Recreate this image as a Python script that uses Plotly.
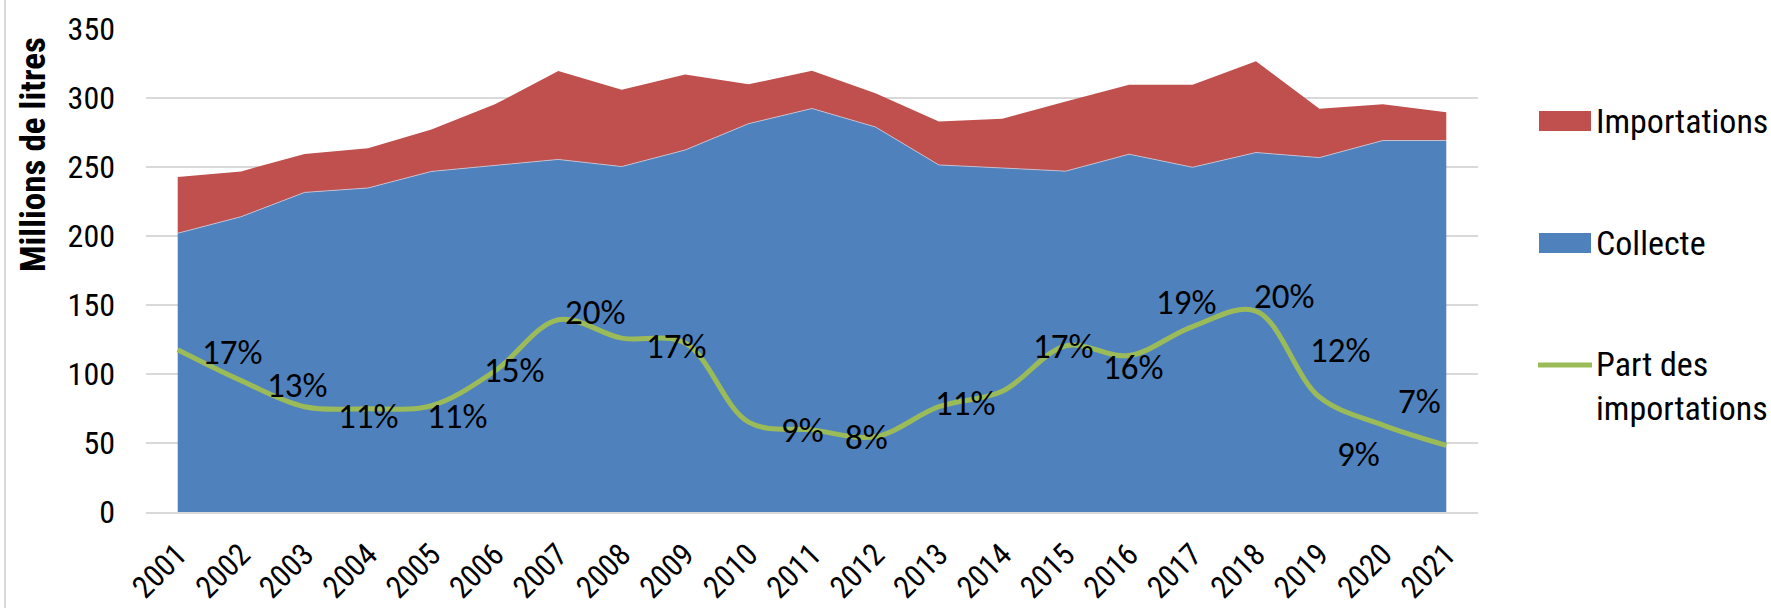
import plotly.graph_objects as go

# ---------------- data ----------------
years = list(range(2001, 2022))
year_labels = [str(y) for y in years]
collecte = [202.0, 214.0, 231.6, 234.8, 246.8, 251.0, 255.5, 250.3, 262.3, 281.4, 292.4,
            279.0, 251.5, 249.3, 247.0, 259.3, 249.8, 260.5, 256.8, 269.2, 269.2]
importations = [40.8, 32.8, 27.9, 28.7, 30.4, 44.4, 64.1, 55.6, 54.8, 28.5, 27.4,
                24.4, 31.5, 35.7, 50.4, 50.3, 59.8, 66.1, 35.4, 26.2, 20.5]
part_pct = [16.8, 13.6, 10.9, 10.7, 11.0, 14.6, 19.9, 18.0, 17.5, 9.3, 8.5,
            7.8, 10.9, 12.5, 17.2, 16.2, 19.2, 20.8, 11.9, 9.0, 6.9]
part_labels = ["17%", "13%", "", "11%", "11%", "15%", "20%", "", "17%", "", "9%",
               "8%", "11%", "", "17%", "16%", "19%", "20%", "12%", "9%", "7%"]
y_ticks = [0, 50, 100, 150, 200, 250, 300, 350]

# label offsets (pixels, style only)
lab_dx = [55, 56, 0, 0, 26, 20, 37, 0, -9, 0, -10, -9, 27, 0, -2, 4, -6, 28, 21, -24, -27]
lab_dy = [2, 4, 0, 7, 10, -1, -8, 0, 3, 0, 0, 0, -4, 0, 0, 11, -25, -15, -47, 29, -44]

# ---------------- style ----------------
BLUE = "#4F81BD"
RED = "#C0504D"
GREEN = "#9BBB59"
GRID = "#D9D9D9"
NARROW = "Liberation Sans Narrow, Arial Narrow, Roboto Condensed, DejaVu Sans Condensed, Liberation Sans, sans-serif"
LABF = "Carlito, Calibri, Lato, Open Sans, sans-serif"

W, H = 1771, 608
L, R, T, B = 146, 1478, 29, 512   # plot area in pixels


def px(xp):
    return (xp - L) / (R - L)


def py(yp):
    return (B - yp) / (B - T)


fig = go.Figure()

fig.add_trace(go.Scatter(
    x=years, y=collecte, name="Collecte", stackgroup="s", mode="lines",
    line=dict(width=0.8, color="rgba(200,215,235,0.9)"), fillcolor=BLUE,
    showlegend=False, hoverinfo="skip"))
fig.add_trace(go.Scatter(
    x=years, y=importations, name="Importations", stackgroup="s", mode="lines",
    line=dict(width=0, color=RED), fillcolor=RED,
    showlegend=False, hoverinfo="skip"))
fig.add_trace(go.Scatter(
    x=years, y=part_pct, name="Part des importations", yaxis="y2", mode="lines",
    line=dict(width=5, color=GREEN, shape="spline", smoothing=1.0),
    showlegend=False, hoverinfo="skip"))

annotations = []
for yr, v, t, dx, dy in zip(years, part_pct, part_labels, lab_dx, lab_dy):
    if not t:
        continue
    annotations.append(dict(
        x=yr, y=v, xref="x", yref="y2", text=t, showarrow=False,
        xshift=dx, yshift=-dy, xanchor="center", yanchor="middle",
        font=dict(family=LABF, size=35, color="#000000")))

# y-axis title
annotations.append(dict(
    x=px(33), y=py(155), xref="paper", yref="paper", text="<b>Millions de litres</b>",
    textangle=-90, showarrow=False, xanchor="center", yanchor="middle",
    font=dict(family=NARROW, size=35, color="#000000")))

# custom legend
shapes = []
leg = [
    ("Importations", RED, 121),
    ("Collecte", BLUE, 243),
]
for name, col, yc in leg:
    shapes.append(dict(type="rect", xref="paper", yref="paper",
                       x0=px(1539), x1=px(1591), y0=py(yc - 10), y1=py(yc + 10),
                       fillcolor=col, line=dict(width=0)))
    annotations.append(dict(x=px(1594), y=py(yc), xref="paper", yref="paper",
                            text=name, showarrow=False, xanchor="left", yanchor="middle",
                            font=dict(family=NARROW, size=34, color="#000000")))
shapes.append(dict(type="line", xref="paper", yref="paper",
                   x0=px(1538), x1=px(1592), y0=py(365), y1=py(365),
                   line=dict(color=GREEN, width=5)))
annotations.append(dict(x=px(1594), y=py(386), xref="paper", yref="paper",
                        text="Part des<br>importations", showarrow=False,
                        xanchor="left", yanchor="middle", align="left",
                        font=dict(family=NARROW, size=34, color="#000000")))

# chart left border
shapes.append(dict(type="line", xref="paper", yref="paper",
                   x0=px(5), x1=px(5), y0=py(0), y1=py(H),
                   line=dict(color=GRID, width=2)))

fig.update_layout(
    width=W, height=H,
    margin=dict(l=L, r=W - R, t=T, b=H - B, pad=0, autoexpand=False),
    paper_bgcolor="white", plot_bgcolor="white",
    showlegend=False,
    xaxis=dict(
        range=[years[0] - 0.5, years[-1] + 0.5],
        tickmode="array", tickvals=years, ticktext=year_labels,
        tickangle=-45, showgrid=False, zeroline=False, automargin=False,
        showline=True, linecolor=GRID, linewidth=2, ticks="",
        ticklabelstandoff=10,
        tickfont=dict(family=NARROW, size=31, color="#000000")),
    yaxis=dict(
        range=[0, 350], tickmode="array", tickvals=y_ticks, automargin=False,
        showgrid=True, gridcolor=GRID, gridwidth=2, zeroline=False,
        showline=False, ticks="", ticklabelstandoff=30,
        tickfont=dict(family=NARROW, size=32, color="#000000")),
    yaxis2=dict(range=[0, 50], overlaying="y", side="right", visible=False),
    annotations=annotations,
    shapes=shapes,
)

fig.write_html("out.html", config={"displayModeBar": False},
               post_script="document.body.style.margin='0';document.body.style.overflow='hidden';")
